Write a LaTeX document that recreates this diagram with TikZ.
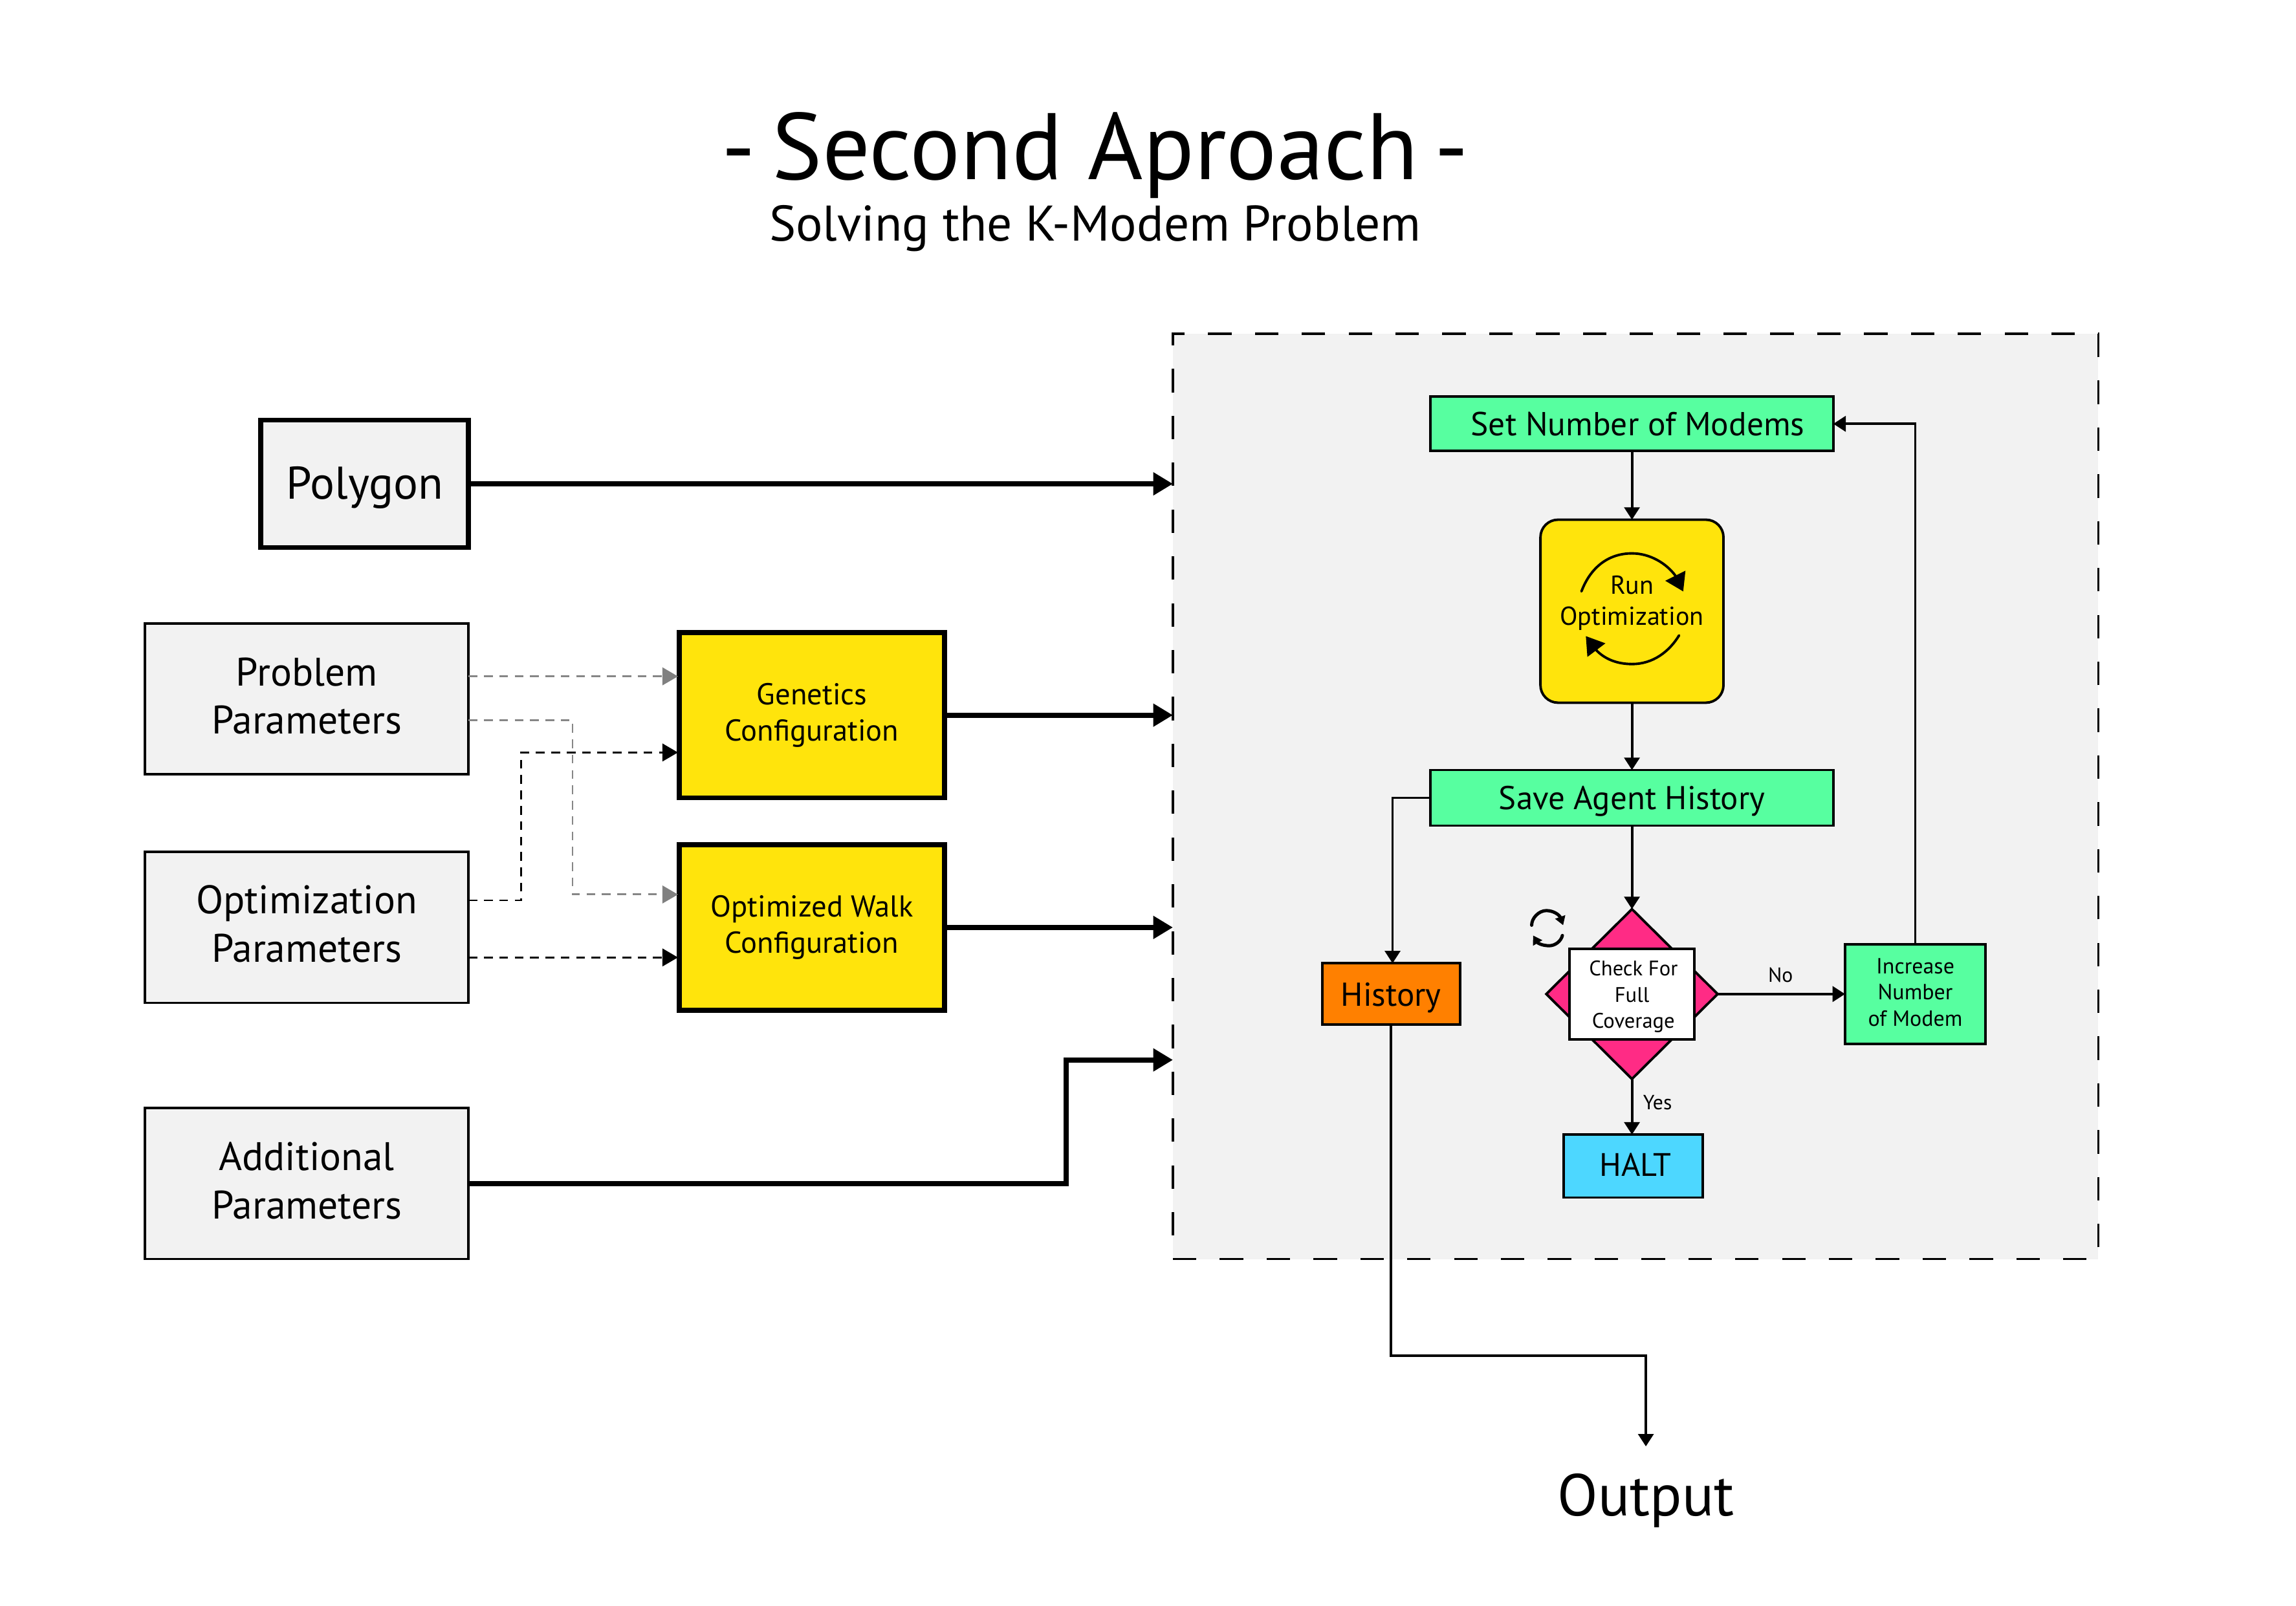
\documentclass[tikz,border=0pt]{standalone}
\usepackage{fontspec}
\setmainfont{PT Sans}
\usetikzlibrary{arrows.meta,shapes.geometric}
\definecolor{panelgray}{HTML}{F2F2F2}
\definecolor{yel}{HTML}{FFE40C}
\definecolor{grn}{HTML}{57FFA0}
\definecolor{pnk}{HTML}{FF2B85}
\definecolor{org}{HTML}{FF8000}
\definecolor{cyn}{HTML}{4DD7FF}
\newcommand{\fs}[2]{\fontsize{#1}{#2}\selectfont}
\newcommand{\dn}[1]{\rule[-#1pt]{0pt}{0pt}}
\newcommand{\hi}[1]{\rule{0pt}{#1pt}}
\tikzset{
 x=1pt,y=-1pt,
 box/.style={draw=black,line width=1.7pt,inner sep=0pt,outer sep=0pt,align=center,text=black},
 thick box/.style={box,line width=3.4pt},
 head/.style={-{Triangle[length=8.5pt,width=10.5pt]}},
 sthin/.style={line width=1.7pt,head},
 sthick/.style={line width=3.4pt,-{Triangle[length=13.4pt,width=15pt]}},
 sdash/.style={line width=1.3pt,dash pattern=on 6pt off 4.5pt,shorten >=1pt,-{Triangle[length=10.6pt,width=12pt]}},
 gdash/.style={sdash,draw=gray!95,-{Triangle[length=10.6pt,width=12pt,color=gray]}},
 param/.style={box,fill=panelgray,minimum width=221pt,minimum height=103pt,font=\fs{27.2}{33}},
 conf/.style={thick box,fill=yel,minimum width=181pt,minimum height=113pt,font=\fs{20.6}{25}},
 small/.style={font=\fs{14.4}{18}},
 lbl/.style={align=center,inner sep=0pt},
 runarc/.style={line width=1.7pt,line cap=round,-{Triangle[length=12pt,width=15pt]}},
 iconarc/.style={line width=2.2pt,line cap=round,-{Triangle[length=6pt,width=7pt]}},
}
\begin{document}
\begin{tikzpicture}
\useasboundingbox (0,0) rectangle (1568,1096.6);
\fill[white] (0,0) rectangle (1568,1096.6);
\node[lbl,font=\fs{64.5}{70}] (title) at (748,106) {- \hspace{-6pt}Second Aproach\hspace{-6pt} -};
\node[lbl,font=\fs{34.2}{40}] (subtitle) at (748,156) {Solving the K-Modem Problem};
\node[minimum width=632pt,minimum height=632pt,fill=panelgray,draw=black,line width=1.7pt,dash pattern=on 16pt off 16pt,inner sep=0pt,outer sep=0pt] (panel) at (1117,544) {};
\node[thick box,fill=panelgray,minimum width=142pt,minimum height=87pt,font=\fs{31.3}{36}] (poly) at (249,330.5) {\hi{27.5}Polygon};
\node[param] (prob) at (209.5,477.5) {Problem\\Parameters\dn{4.5}};
\node[param] (opt) at (209.5,633.5) {Optimization\\Parameters\dn{5}};
\node[param] (add) at (209.5,808.5) {Additional\\Parameters\dn{4.5}};
\node[conf] (gen) at (554.5,488.5) {Genetics\\Configuration};
\node[conf] (walk) at (554.5,633.5) {Optimized Walk\\Configuration};
\node[box,fill=grn,minimum width=275pt,minimum height=37pt] (setn) at (1114.5,289.5) {};
\node[lbl,font=\fs{22.7}{26}] (setnt) at (1118.5,289.5) {Set Number of Modems};
\node[box,fill=yel,rounded corners=12pt,minimum width=125pt,minimum height=125pt] (run) at (1114.5,417.5) {};
\node[lbl,font=\fs{17.7}{21}] (runt) at (1114.5,412) {Run\\Optimization};
\node[box,fill=grn,minimum width=275pt,minimum height=38pt,font=\fs{22.5}{26}] (save) at (1114.5,545) {\hi{21}Save Agent History};
\node[box,fill=org,minimum width=94pt,minimum height=42pt,font=\fs{22.6}{26}] (hist) at (950,679) {\hi{21}History};
\node[draw=black,line width=1.7pt,diamond,fill=pnk,minimum width=117pt,minimum height=116pt,inner sep=0pt,outer sep=0pt] (diam) at (1114.5,679) {};
\node[box,fill=white,minimum width=85pt,minimum height=62pt,small] (check) at (1114.5,679) {\hi{14}\hspace*{2pt}Check For\\Full\\\hspace*{2pt}Coverage};
\node[box,fill=grn,minimum width=96pt,minimum height=68pt,font=\fs{15}{18}] (inc) at (1308,679) {Increase\\Number\\of Modem\dn{2.5}};
\node[box,fill=cyn,minimum width=95pt,minimum height=43pt,font=\fs{22.2}{26}] (halt) at (1115.5,796.5) {\hspace*{3pt}HALT\dn{2}};
\node[lbl,font=\fs{40.4}{46}] (outp) at (1124,1025) {Output};
\node[lbl,font=\fs{14}{16}] (no) at (1216,666) {No};
\node[lbl,font=\fs{14}{16}] (yes) at (1132,753) {Yes};
\coordinate (pd) at (801,724);
\coordinate (ha) at (728,808.5);
\coordinate (hb) at (728,724);
\coordinate (oa) at (950,926);
\coordinate (ob) at (1124,926);
\coordinate (oc) at (1124,988);
\draw[sthick] (poly.east) -- (panel.west |- poly.east);
\draw[sthick] (gen.east) -- (panel.west |- gen.east);
\draw[sthick] (walk.east) -- (panel.west |- walk.east);
\draw[sthick] (add.east) -- (ha) -- (hb) -- (pd);
\draw[gdash] (prob.east |- 0,462) -- (gen.west |- 0,462);
\draw[gdash] (prob.east |- 0,492) -- (391,492) -- (391,611) -- (walk.west |- 0,611);
\draw[sdash] (opt.east |- 0,615) -- (356,615) -- (356,514) -- (gen.west |- 0,514);
\draw[sdash] (opt.east |- 0,654) -- (walk.west |- 0,654);
\draw[sthin] (setn.south) -- (run.north);
\draw[sthin] (run.south) -- (save.north);
\draw[sthin] (save.west) -- (951,545) -- (951,658);
\draw[sthin] (hist.south) -- (oa) -- (ob) -- (oc);
\draw[sthin] (save.south) -- (diam.north);
\draw[sthin] (diam.east) -- (inc.west);
\draw[sthin] (diam.south) -- (halt.north -| diam.south);
\draw[sthin] (inc.north) -- (inc.north |- setn.east) -- (setn.east);
\draw[runarc] (1080,404) .. controls (1086,388) and (1098,378) .. (1114.5,378) .. controls (1127,378) and (1138,385) .. (1144,393) -- (1149.5,404);
\draw[runarc] (1146.7,434) .. controls (1140,445) and (1129,453.6) .. (1114.5,453.6) .. controls (1104,453.6) and (1096,450) .. (1090.6,444.6) -- (1083,434.5);
\draw[iconarc] (1046,632) .. controls (1046,627) and (1051,622) .. (1056,622) .. controls (1061,622) and (1065,625) .. (1067.5,632);
\draw[iconarc] (1067,639) .. controls (1066,643) and (1062,646) .. (1058,646) .. controls (1053,646) and (1050,644) .. (1047,639);
\end{tikzpicture}
\end{document}
